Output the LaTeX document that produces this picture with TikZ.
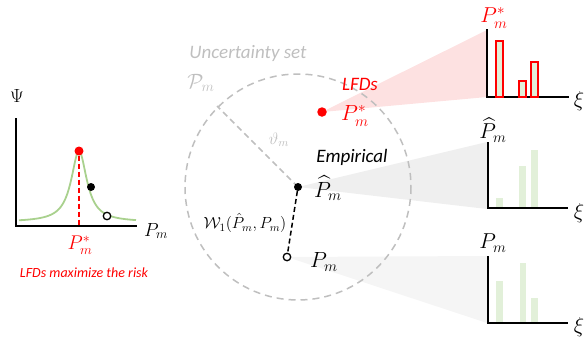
\RequirePackage{fix-cm}
\documentclass[tikz,border=0pt]{standalone}
\usepackage{graphicx}
\usepackage{fontspec}
\setsansfont{Carlito}
\usepackage{amsmath}
\definecolor{cgreen}{HTML}{A9D18E}
\definecolor{cbar}{HTML}{E2F0D9}
\definecolor{cpink}{HTML}{FDE1E1}
\definecolor{cgrayA}{HTML}{EFEFEF}
\definecolor{cgrayB}{HTML}{F5F5F5}
\definecolor{cdash}{HTML}{BFBFBF}
\definecolor{cred}{HTML}{FF0000}
\newcommand{\mlab}[2]{{\fontsize{17.28}{20}\selectfont\scalebox{#1}{$#2$}}}
\newcommand{\slab}[2]{{\fontsize{14.4}{17}\selectfont\scalebox{#1}{$#2$}}}
\tikzset{
  axis/.style={line width=1.8pt, black},
  txt/.style={font=\sffamily\itshape\fontsize{19}{22}\selectfont},
  bar/.style={fill=cbar, draw=none},
  redbar/.style={fill=cbar, draw=cred, line width=1.2pt},
  dot/.style={circle, inner sep=0pt, minimum size=#1},
}
\begin{document}
\begin{tikzpicture}[x=1pt,y=-1pt]
\useasboundingbox (0,0) rectangle (587,343);
% beams
\coordinate (clfd) at (322,112);
\coordinate (cemp) at (298,187);
\coordinate (cpm) at (287,257);
\coordinate (pkT) at (487,30); \coordinate (pkB) at (487,97);
\coordinate (gaT) at (487,142); \coordinate (gaB) at (487,209);
\coordinate (gbT) at (487,256); \coordinate (gbB) at (487,323);
\fill[cpink] (clfd) -- (pkT) -- (pkB) -- cycle;
\fill[cgrayA] (cemp) -- (gaT) -- (gaB) -- cycle;
\fill[cgrayB] (cpm) -- (gbT) -- (gbB) -- cycle;
% circle
\draw[cdash, line width=1.5pt, dash pattern=on 7pt off 5pt] (cemp) circle (113);
\coordinate (rad) at (217,106);
\draw[cdash, line width=1.5pt, dash pattern=on 6pt off 4pt] (cemp) -- (rad);
\node[dot=9.5pt, fill=cred] (lfd) at (clfd) {};
\node[dot=8pt, fill=black] (emp) at (cemp) {};
\node[dot=7.5pt, draw=black, line width=1.3pt, fill=white] (pm) at (cpm) {};
\draw[black, line width=1.5pt, dash pattern=on 5pt off 3pt] (emp) -- (pm);
% labels in circle
\node[txt, text=cdash] (unc) at (248,53) {Uncertainty set};
\node[text=cdash] (calp) at (201,83) {\mlab{1.2}{\mathcal{P}_m}};
\node[text=cdash] (theta) at (279,140) {\slab{1.15}{\vartheta_m}};
\node[txt, text=cred] (lfdt) at (360,84) {LFDs};
\node[text=cred] (lfdl) at (355,116) {\mlab{1.27}{P_m^*}};
\node[txt] (empt) at (352,157) {Empirical};
\node (empl) at (328,188) {\mlab{1.27}{\widehat{P}_m}};
\node (wl) at (245,223) {\slab{1.12}{\mathcal{W}_1(\hat{P}_m,P_m)}};
\node (pml) at (324,262) {\mlab{1.27}{P_m}};
% left plot
\coordinate (lo) at (16,226);
\coordinate (ly) at (16,118);
\coordinate (lx) at (137,226);
\draw[cgreen, line width=1.8pt, domain=19:136, samples=120, smooth]
  plot ({\x},{222-71/(1+((\x-79)/9.5)^2)});
\draw[axis] (ly) -- (lo) -- (lx);
\node[dot=9pt, fill=cred] (peak) at (79,151) {};
\coordinate (peakb) at (79,226);
\draw[cred, line width=1.5pt, dash pattern=on 5pt off 3pt] (peak) -- (peakb);
\node[dot=8pt, fill=black] (bd) at (91,187) {};
\node[dot=7.5pt, draw=black, line width=1.3pt, fill=white] (od) at (107,216) {};
\node (psi) at (17,96) {\mlab{1.1}{\Psi}};
\node (lpm) at (156,231) {\mlab{1.1}{P_m}};
\node[text=cred] (lps) at (80,245) {\mlab{1.15}{P_m^*}};
\node[font=\sffamily\itshape\fontsize{14}{16}\selectfont, text=cred] (risk) at (84,273) {LFDs maximize the risk};
% right top plot
\draw[axis] (487,29) -- (487,97) -- (569,97);
\draw[redbar] (496,41) rectangle (503,97);
\draw[redbar] (519,81) rectangle (526,97);
\draw[redbar] (531,62) rectangle (538,97);
\node[text=cred] (t1) at (494,18) {\mlab{1.25}{P_m^*}};
\node (x1) at (579,101) {\mlab{1.25}{\xi}};
% right middle plot
\fill[bar] (496,198) rectangle (503,208);
\fill[bar] (519,166) rectangle (526,208);
\fill[bar] (531,150) rectangle (538,208);
\draw[axis] (488,142) -- (488,208) -- (568,208);
\node (t2) at (493,130) {\mlab{1.25}{\widehat{P}_m}};
\node (x2) at (579,213) {\mlab{1.25}{\xi}};
% right bottom plot
\fill[bar] (496,281) rectangle (503,323);
\fill[bar] (520,263) rectangle (526,323);
\fill[bar] (531,298) rectangle (538,323);
\draw[axis] (488,256) -- (488,323) -- (568,323);
\node (t3) at (493,243) {\mlab{1.25}{P_m}};
\node (x3) at (579,327) {\mlab{1.25}{\xi}};
\end{tikzpicture}
\end{document}
